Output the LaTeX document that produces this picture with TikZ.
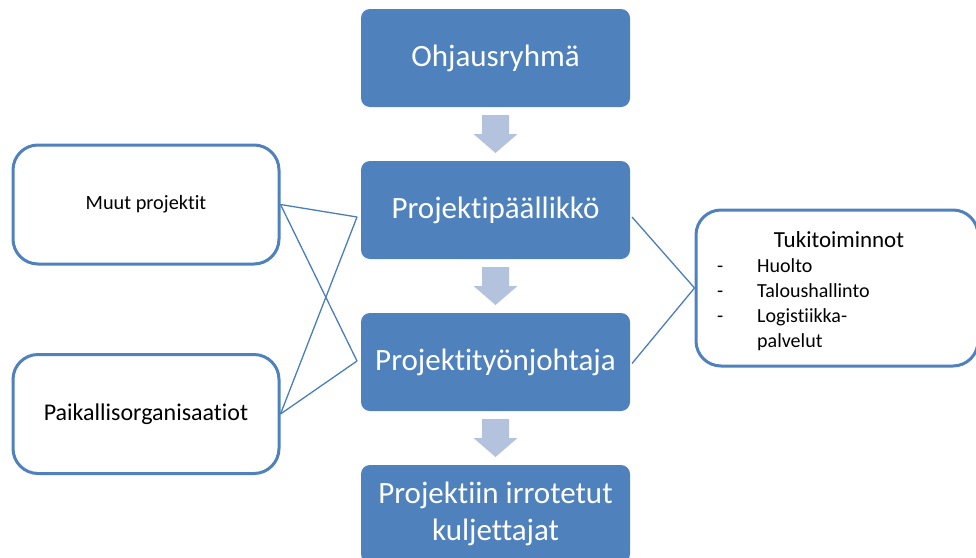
\documentclass[tikz,border=0pt]{standalone}
\usepackage{fontspec}
\setmainfont[Ligatures=NoCommon]{Carlito}
\usetikzlibrary{positioning,calc}
\definecolor{boxblue}{HTML}{4F81BD}
\definecolor{arrowblue}{HTML}{B3C3DD}
\definecolor{lineblue}{HTML}{4A7EBB}
\tikzset{
  mainbox/.style={fill=boxblue, draw=none, rounded corners=9pt, minimum width=269pt,
    minimum height=98pt, text=white, font=\fontsize{31}{37}\selectfont, align=center,
    inner sep=0pt, outer sep=0pt},
  sidebox/.style={draw=boxblue, line width=3pt, fill=white, rounded corners=25pt,
    minimum width=266pt, minimum height=119pt, inner sep=0pt},
  link/.style={draw=lineblue, line width=1.3pt},
  flowarrow/.style={fill=arrowblue, draw=none}
}

\begin{document}
\begin{tikzpicture}[x=1pt,y=1pt]
\useasboundingbox (0,0) rectangle (976,-557);
\clip (0,0) rectangle (976,-557);
% middle column
\node[mainbox] (ohj) at (495.5,-58) {Ohjausryhmä};
\node[mainbox, below=54pt of ohj] (ppl) {Projektipäällikkö};
\node[mainbox, below=54pt of ppl] (ptj) {Projektityönjohtaja};
\node[mainbox, below=54pt of ptj] (kul) {Projektiin irrotetut\\kuljettajat};
% block arrows between the boxes
\foreach \a/\b in {ohj/ppl, ppl/ptj, ptj/kul}
  \fill[flowarrow] ($(\a.south)+(-13.5,-8)$) -- ($(\a.south)+(13.5,-8)$)
    -- ($(\b.north)+(13.5,27)$) -- ($(\b.north)+(22,27)$) -- ($(\b.north)+(0,8)$)
    -- ($(\b.north)+(-22,27)$) -- ($(\b.north)+(-13.5,27)$) -- cycle;
% left side
\node[sidebox, font=\fontsize{20.3}{24}\selectfont] (muut) at (146,-204.5) {Muut projektit};
\node[sidebox, font=\fontsize{24}{28}\selectfont] (paik) at (146,-414) {Paikallisorganisaatiot};
% right side
\node[sidebox, minimum width=282pt, minimum height=156pt] (tuki) at (837,-288) {};
\node[font=\fontsize{23}{27}\selectfont] (tukititle) at (839,-240) {Tukitoiminnot};
\node[anchor=base west, font=\fontsize{20}{25}\selectfont, inner sep=0pt] (tukilist) at (717,-272.7)
  {\begin{tabular}[t]{@{}p{40pt}@{}l@{}}-&Huolto\\-&Taloushallinto\\-&Logistiikka-\\&palvelut\end{tabular}};
% connectors
\coordinate (pplin) at ($(ppl.west)+(-4,-7)$);
\coordinate (ptjin) at ($(ptj.west)+(-4,1)$);
\coordinate (pplout) at ($(ppl.east)+(2,-7)$);
\coordinate (ptjout) at ($(ptj.east)+(2,-1.5)$);
\foreach \s in {muut, paik}
  \foreach \t in {pplin, ptjin}
    \draw[link] (\s.east) -- (\t);
\draw[link] (pplout) -- (tuki.west) -- (ptjout);
\end{tikzpicture}
\end{document}
